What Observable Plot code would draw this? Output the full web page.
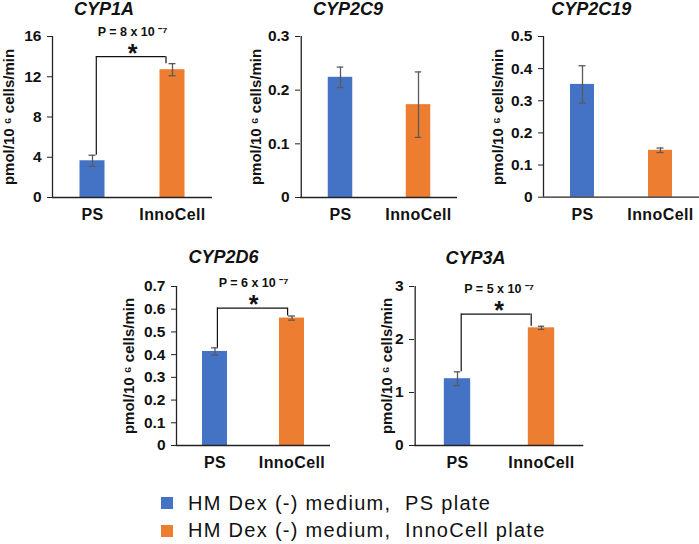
<!DOCTYPE html>
<html>
<head>
<meta charset="utf-8">
<script src="https://cdn.jsdelivr.net/npm/d3@7"></script>
<script src="https://cdn.jsdelivr.net/npm/@observablehq/plot@0.6"></script>
<style>
  html, body { margin: 0; padding: 0; background: #fff; }
  #root { position: relative; width: 699px; height: 544px; overflow: hidden; font-family: "Liberation Sans", Arial, sans-serif; }
  #root svg { position: absolute; overflow: visible; }
  g[aria-label="x-axis tick label"] { font-size: 16px; font-weight: bold; letter-spacing: 0.4px; }
  g[aria-label="y-axis tick label"] { font-size: 15.5px; font-weight: bold; }
  g[aria-label="title"] { letter-spacing: 1.3px; }
  g[aria-label="ylabel"] { letter-spacing: 0.5px; }
  g[aria-label="pvalue"] { letter-spacing: 0.5px; }
  .legend { position: absolute; left: 161px; top: 489.5px; }
  .legend .row { height: 27.5px; display: flex; align-items: center; white-space: pre; font-size: 20px; letter-spacing: 1.3px; color: #111; }
  .legend .sw { width: 12px; height: 12px; margin-right: 15px; flex: none; }
</style>
</head>
<body>
<div id="root"></div>
<script>
// ---- data ----
const genes = ["CYP1A", "CYP2C9", "CYP2C19", "CYP2D6", "CYP3A"];
const plates = ["PS", "InnoCell"];
const psMean = [3.65, 0.224, 0.351, 0.414, 1.26];
const psErr = [0.55, 0.019, 0.058, 0.016, 0.13];
const innoMean = [12.7, 0.173, 0.146, 0.561, 2.22];
const innoErr = [0.6, 0.061, 0.007, 0.009, 0.03];
const yMax = [16, 0.3, 0.5, 0.7, 3];
const yTicks = [
  [0, 4, 8, 12, 16],
  [0, 0.1, 0.2, 0.3],
  [0, 0.1, 0.2, 0.3, 0.4, 0.5],
  [0, 0.1, 0.2, 0.3, 0.4, 0.5, 0.6, 0.7],
  [0, 1, 2, 3]
];
const pLabels = ["P = 8 x 10 \u207B\u2077", null, null, "P = 6 x 10 \u207B\u2077", "P = 5 x 10 \u207B\u2077"];
const bracketLevels = [14.0, null, null, 0.605, 2.48];
const yLabel = "pmol/10 \u2076 cells/min";
const legendLabels = ["HM Dex (-) medium,  PS plate", "HM Dex (-) medium,  InnoCell plate"];
const colors = ["#4472C4", "#ED7D31"];

// ---- layout (pixel positions of each panel) ----
const layout = [
  {left: 0,   top: 0,   width: 232, height: 225, frame: [52, 212, 36, 197],    title: [103.5, 9], ylabelX: 8.5,   barW: 25, br: [3.8, 6.5]},
  {left: 232, top: 0,   width: 235, height: 225, frame: [300, 457, 36, 197],   title: [347.5, 9], ylabelX: 255.5, barW: 25},
  {left: 467, top: 0,   width: 232, height: 225, frame: [543, 699, 36, 196.7], title: [590.7, 9], ylabelX: 498,   barW: 24},
  {left: 100, top: 235, width: 240, height: 240, frame: [176, 330, 286, 445],  title: [223, 257], ylabelX: 128.5, barW: 25, br: [2.4, 4.4]},
  {left: 340, top: 235, width: 250, height: 240, frame: [414, 583.3, 286, 445], title: [475, 258], ylabelX: 386.5, barW: 27, br: [3.7, 10.3]}
];

const root = document.getElementById("root");
const FONT = "Liberation Sans, Arial, sans-serif";

genes.forEach((gene, i) => {
  const L = layout[i];
  const mL = L.frame[0] - L.left;
  const mR = L.left + L.width - L.frame[1];
  const mT = L.frame[2] - L.top;
  const mB = L.top + L.height - L.frame[3];
  const bw = (L.frame[1] - L.frame[0]) / 2;
  const data = plates.map((p, j) => ({
    plate: p,
    value: j ? innoMean[i] : psMean[i],
    err: j ? innoErr[i] : psErr[i]
  }));
  const errColor = "#5a5a5a";
  const marks = [
    Plot.barY(data, {x: "plate", y: "value", fill: "plate", insetLeft: (bw - L.barW) / 2, insetRight: (bw - L.barW) / 2}),
    Plot.ruleX(data, {x: "plate", y1: d => d.value - d.err, y2: d => d.value + d.err, stroke: errColor, strokeWidth: 1.3}),
    Plot.tickY(data, {x: "plate", y: d => d.value + d.err, insetLeft: bw / 2 - 3.5, insetRight: bw / 2 - 3.5, stroke: errColor, strokeWidth: 1.3}),
    Plot.tickY(data, {x: "plate", y: d => d.value - d.err, insetLeft: bw / 2 - 3.5, insetRight: bw / 2 - 3.5, stroke: errColor, strokeWidth: 1.3}),
    Plot.ruleY([0], {stroke: "#222", strokeWidth: 1.3}),
    Plot.ruleX([plates[0]], {dx: -bw / 2, stroke: "#222", strokeWidth: 1.3}),
    Plot.axisY({ticks: yTicks[i], tickSize: 5, tickPadding: 6, tickFormat: d => String(d), label: null, fontSize: 15.5, fontWeight: "bold", stroke: "#222"}),
    Plot.axisX({tickSize: 0, tickPadding: 11, label: null, fontSize: 16, fontWeight: "bold"}),
    Plot.text([gene], {frameAnchor: "top-left", dx: L.title[0] - L.frame[0], dy: L.title[1] - L.frame[2], textAnchor: "middle", lineAnchor: "middle", fontSize: 18, fontWeight: "bold", fontStyle: "italic", fill: "#111", ariaLabel: "title"}),
    Plot.text([yLabel], {frameAnchor: "left", dx: L.ylabelX - L.frame[0], rotate: -90, textAnchor: "middle", lineAnchor: "middle", fontSize: 15, fontWeight: "bold", fill: "#111", ariaLabel: "ylabel"})
  ];
  if (bracketLevels[i] != null) {
    const b = {y: bracketLevels[i], yl: psMean[i] + psErr[i], yr: innoMean[i] + innoErr[i], p: pLabels[i]};
    marks.push(
      Plot.ruleX([b], {x: () => plates[0], y1: "yl", y2: "y", dx: L.br[0], stroke: "#111", strokeWidth: 1.2}),
      Plot.ruleX([b], {x: () => plates[1], y1: "yr", y2: "y", dx: -L.br[1], stroke: "#111", strokeWidth: 1.2}),
      Plot.ruleY([b], {x1: () => plates[0], x2: () => plates[1], y: "y", insetLeft: bw / 2 + L.br[0], insetRight: bw / 2 + L.br[1], stroke: "#111", strokeWidth: 1.2}),
      Plot.text([b], {y: "y", text: () => "*", frameAnchor: "middle", dy: -3, fontSize: 25, fontWeight: "bold", fill: "#111"}),
      Plot.text([b], {y: "y", text: "p", frameAnchor: "middle", dy: -25, fontSize: 12.5, fontWeight: "bold", fill: "#111", ariaLabel: "pvalue"})
    );
  }
  const svg = Plot.plot({
    width: L.width,
    height: L.height,
    marginLeft: mL,
    marginRight: mR,
    marginTop: mT,
    marginBottom: mB,
    x: {domain: plates, padding: 0, axis: null},
    y: {domain: [0, yMax[i]], axis: null},
    color: {domain: plates, range: colors},
    style: {fontFamily: FONT, color: "#111", background: "transparent", overflow: "visible"},
    marks
  });
  svg.style.left = L.left + "px";
  svg.style.top = L.top + "px";
  root.appendChild(svg);
});

// legend
const legend = document.createElement("div");
legend.className = "legend";
legendLabels.forEach((lab, j) => {
  const row = document.createElement("div");
  row.className = "row";
  const sw = document.createElement("span");
  sw.className = "sw";
  sw.style.background = colors[j];
  const tx = document.createElement("span");
  tx.textContent = lab;
  row.appendChild(sw);
  row.appendChild(tx);
  legend.appendChild(row);
});
root.appendChild(legend);
</script>
</body>
</html>
